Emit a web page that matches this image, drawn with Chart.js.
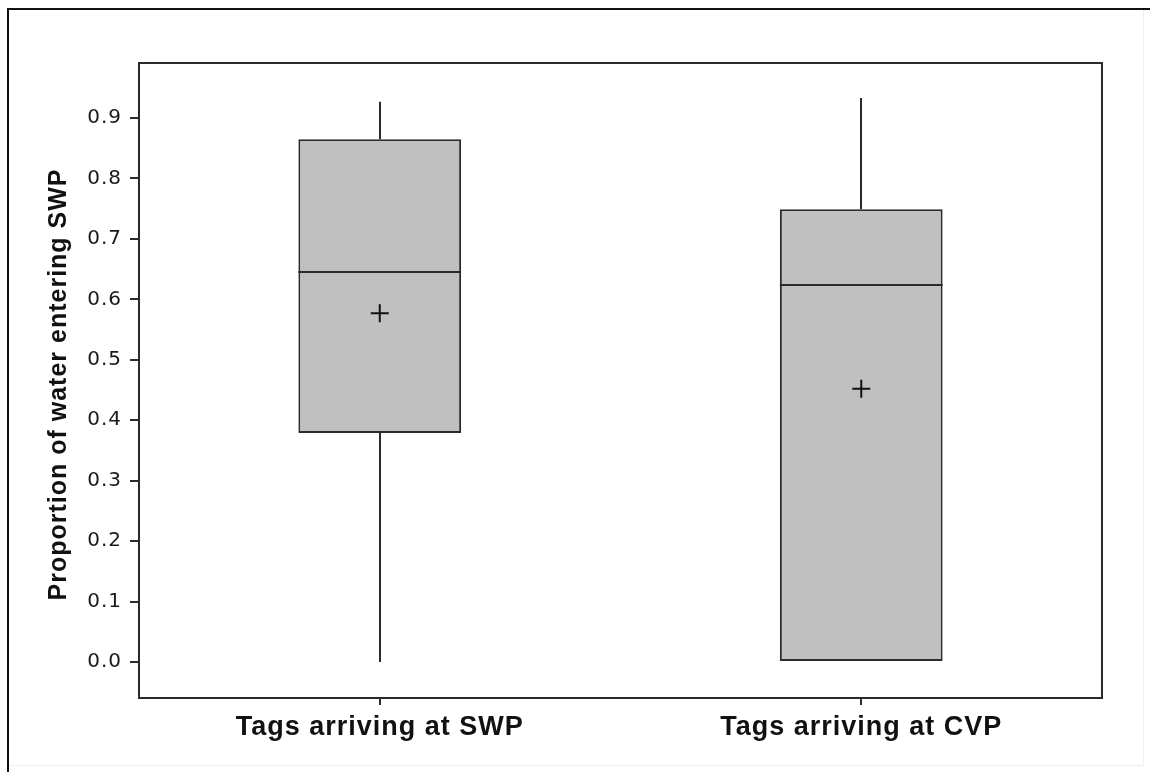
<!DOCTYPE html>
<html>
<head>
<meta charset="utf-8">
<style>
html,body{margin:0;padding:0;background:#fff;}
#wrap{width:1150px;height:772px;position:relative;}
</style>
<script src="https://cdn.jsdelivr.net/npm/chart.js@4.4.1/dist/chart.umd.min.js"></script>
</head>
<body>
<div id="wrap"><canvas id="c" width="1150" height="772"></canvas></div>
<script>
const categories = ["Tags arriving at SWP", "Tags arriving at CVP"];
const whiskerMin = [0.0, 0.0];
const q1 = [0.379, 0.0];
const median = [0.645, 0.624];
const q3 = [0.865, 0.749];
const whiskerMax = [0.927, 0.933];
const means = [0.577, 0.452];
const yTicks = [0.0, 0.1, 0.2, 0.3, 0.4, 0.5, 0.6, 0.7, 0.8, 0.9];

const dark = "#2b2b2b";

const boxPlugin = {
  id: "boxExtras",
  beforeDraw(chart) {
    const ctx = chart.ctx;
    ctx.save();
    ctx.strokeStyle = "#f0f0f0";
    ctx.lineWidth = 1;
    ctx.strokeRect(7.5, 8.5, 1136, 757);
    ctx.strokeStyle = "#111";
    ctx.lineWidth = 2;
    ctx.beginPath();
    ctx.moveTo(8, 772);
    ctx.lineTo(8, 9);
    ctx.lineTo(1150, 9);
    ctx.stroke();
    ctx.restore();
    ctx.letterSpacing = "1px";
  },
  afterDatasetsDraw(chart) {
    const ctx = chart.ctx;
    const x = chart.scales.x, y = chart.scales.y;
    const meta = chart.getDatasetMeta(0);
    ctx.save();
    ctx.strokeStyle = dark;
    ctx.lineWidth = 2;
    categories.forEach((c, i) => {
      const cx = Math.round(x.getPixelForValue(i));
      const bar = meta.data[i];
      const half = bar.width / 2;
      ctx.beginPath();
      ctx.moveTo(cx, y.getPixelForValue(q3[i]));
      ctx.lineTo(cx, y.getPixelForValue(whiskerMax[i]));
      if (q1[i] > whiskerMin[i]) {
        ctx.moveTo(cx, y.getPixelForValue(q1[i]));
        ctx.lineTo(cx, y.getPixelForValue(whiskerMin[i]));
      }
      const my = Math.round(y.getPixelForValue(median[i]));
      ctx.moveTo(bar.x - half, my);
      ctx.lineTo(bar.x + half, my);
      ctx.stroke();
    });
    const a = chart.chartArea;
    ctx.strokeStyle = dark;
    ctx.lineWidth = 2;
    ctx.strokeRect(a.left, a.top, a.right - a.left, a.bottom - a.top);
    ctx.restore();
  }
};

new Chart(document.getElementById("c"), {
  type: "bar",
  data: {
    labels: categories,
    datasets: [
      {
        type: "bar",
        data: categories.map((c, i) => [q1[i], q3[i]]),
        backgroundColor: "#c0c0c0",
        borderColor: dark,
        borderWidth: 2,
        borderSkipped: false,
        barPercentage: 0.338,
        categoryPercentage: 1.0,
        order: 2
      },
      {
        type: "line",
        data: means,
        showLine: false,
        pointStyle: "cross",
        pointRadius: 9,
        pointBorderWidth: 2,
        pointBorderColor: "#111",
        pointBackgroundColor: "#111",
        order: 1
      }
    ]
  },
  plugins: [boxPlugin],
  options: {
    responsive: false,
    animation: false,
    events: [],
    layout: { padding: { left: 40, top: 63, right: 48, bottom: 0 } },
    plugins: { legend: { display: false }, tooltip: { enabled: false }, title: { display: false } },
    scales: {
      x: {
        type: "category",
        offset: true,
        grid: { display: true, drawOnChartArea: false, offset: false, tickLength: 7, color: dark, lineWidth: 2 },
        border: { display: false },
        ticks: {
          color: "#111",
          padding: 6,
          font: { family: "'Liberation Sans', Arial, sans-serif", size: 27, weight: "bold" }
        },
        afterFit(s) { s.height = 74; }
      },
      y: {
        type: "linear",
        min: -0.0596,
        max: 0.991,
        afterBuildTicks(s) { s.ticks = yTicks.map(v => ({ value: v })); },
        grid: { display: true, drawOnChartArea: false, tickLength: 9, color: dark, lineWidth: 2 },
        border: { display: false },
        ticks: {
          color: "#1a1a1a",
          padding: 8,
          font: { family: "'DejaVu Sans', Verdana, sans-serif", size: 20 },
          callback(v) { return Number(v).toFixed(1); }
        },
        title: {
          display: true,
          text: "Proportion of water entering SWP ",
          color: "#111",
          padding: { top: 4, bottom: 2 },
          font: { family: "'Liberation Sans', Arial, sans-serif", size: 25, weight: "bold" }
        },
        afterFit(s) { s.width = 99; }
      }
    }
  }
});
</script>
</body>
</html>
